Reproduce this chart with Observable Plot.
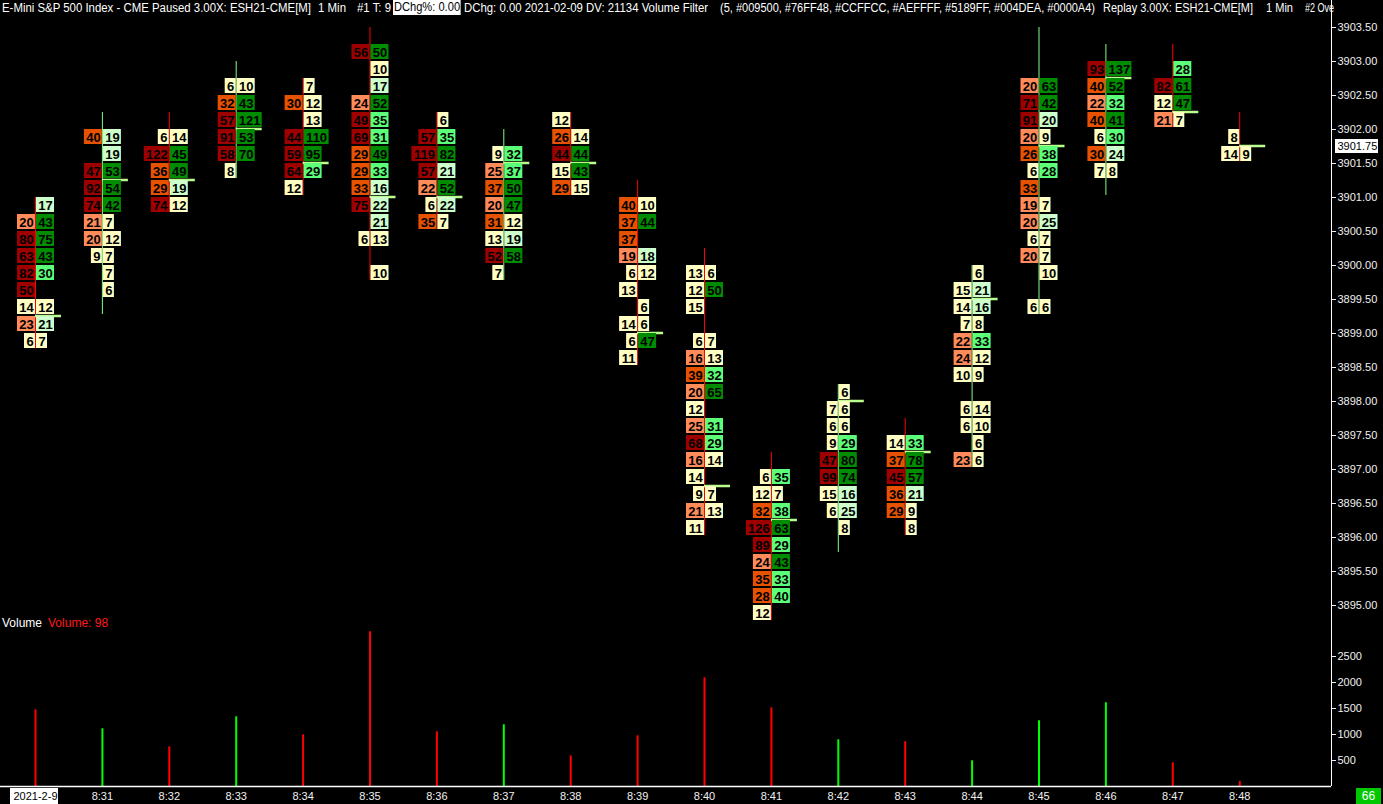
<!DOCTYPE html>
<html><head><meta charset="utf-8">
<script src="https://cdn.jsdelivr.net/npm/d3@7"></script>
<script src="https://cdn.jsdelivr.net/npm/@observablehq/plot@0.6"></script>
<style>
html,body{margin:0;padding:0;background:#000;overflow:hidden}
#wrap{position:relative;width:1383px;height:804px;background:#000;font-family:"Liberation Sans",Arial,sans-serif}
#price{position:absolute;left:0;top:0}
#vol{position:absolute;left:0;top:620px}
#hdr{position:absolute;left:0;top:0;width:1331px;height:17px;color:#fff;font-size:12px;white-space:pre}
#hdr span{position:absolute;top:1px;line-height:14px;transform-origin:0 0}
#hdr .box{background:#fff;color:#000;top:0;line-height:15px;padding:0 1px}
#vlab{position:absolute;left:2px;top:616px;font-size:12px;color:#fff;white-space:pre;line-height:14px}
#vlab span{color:#ff1a1a;margin-left:6px}
#last{position:absolute;left:1356px;top:788px;width:25px;height:16px;background:#00c800;color:#fff;font-size:12px;line-height:16px;text-align:center}
</style></head><body>
<div id="wrap">
  <div id="price"></div>
  <div id="vol"></div>
  <div id="hdr">
    <span data-l="2" data-r="311">E-Mini S&amp;P 500 Index - CME Paused 3.00X: ESH21-CME[M]</span>
    <span data-l="318" data-r="346">1 Min</span>
    <span data-l="357" data-r="391">#1 T: 9</span>
    <span class="box" data-l="393" data-r="461">DChg%: 0.00</span>
    <span data-l="464" data-r="708">DChg: 0.00 2021-02-09 DV: 21134 Volume Filter</span>
    <span data-l="720" data-r="1095">(5, #009500, #76FF48, #CCFFCC, #AEFFFF, #5189FF, #004DEA, #0000A4)</span>
    <span data-l="1103" data-r="1253">Replay 3.00X: ESH21-CME[M]</span>
    <span data-l="1266" data-r="1293">1 Min</span>
    <span data-l="1305" data-r="1334">#2 Ove</span>
  </div>
  <div id="vlab">Volume<span>Volume: 98</span></div>
  <div id="last">66</div>
</div>
<script>
// ---------- data ----------
const times = ["2021-2-9","8:31","8:32","8:33","8:34","8:35","8:36","8:37","8:38","8:39","8:40","8:41","8:42","8:43","8:44","8:45","8:46","8:47","8:48"];
const volumes = [1475,1110,763,1340,994,2975,1052,1187,590,975,2090,1513,898,860,494,1263,1610,456,98];
const barUp = [false,true,false,true,false,false,false,true,false,false,false,false,true,false,true,true,true,false,false];
const highs = [3901.00,3902.25,3902.25,3903.00,3902.75,3903.50,3902.25,3902.00,3902.25,3901.25,3900.25,3897.25,3898.25,3897.75,3900.00,3903.50,3903.25,3903.25,3902.25];
const lows = [3899.00,3899.50,3901.00,3901.50,3901.25,3900.00,3900.75,3900.00,3901.25,3898.75,3896.25,3895.00,3896.00,3896.25,3897.25,3899.50,3901.25,3902.25,3901.75];
const closes = [3899.25,3901.25,3901.25,3902.00,3901.50,3901.00,3901.00,3901.50,3901.50,3899.00,3896.75,3896.25,3898.00,3897.25,3899.50,3901.75,3902.75,3902.25,3901.75];
const cellTop = [3901.00,3902.00,3902.00,3902.75,3902.75,3903.25,3902.25,3901.75,3902.25,3901.00,3900.00,3897.00,3898.25,3897.50,3900.00,3902.75,3903.00,3903.00,3902.00];
const bidVol = [
  [null,20,80,63,82,50,14,23,6],
  [40,null,47,92,74,21,20,9,null,null],
  [6,122,36,29,74],
  [6,32,57,91,58,8],
  [null,30,null,44,59,64,12],
  [56,null,null,24,49,69,29,29,33,75,null,6,null,null],
  [null,57,119,57,22,6,35],
  [9,25,37,20,31,13,52,7],
  [12,26,44,15,29],
  [40,37,37,19,6,13,null,14,6,11],
  [13,12,15,null,6,16,39,20,12,25,68,16,14,9,21,11],
  [6,12,32,126,89,24,35,28,12],
  [null,7,6,9,47,99,15,6,null],
  [14,37,45,36,29,null],
  [null,15,14,7,22,24,10,null,6,6,null,23],
  [20,71,91,20,26,6,33,19,20,6,20,null,null,6],
  [93,40,22,40,6,30,7],
  [null,82,12,21],
  [8,14]
];
const askVol = [
  [17,43,75,43,30,null,12,21,7],
  [19,19,53,54,42,7,12,7,7,6],
  [14,45,49,19,12],
  [10,43,121,53,70,null],
  [7,12,13,110,95,29,null],
  [50,10,17,52,35,31,49,33,16,22,21,13,null,10],
  [6,35,82,21,52,22,7],
  [32,37,50,47,12,19,58,null],
  [null,14,44,43,15],
  [10,44,null,18,12,null,6,6,47,null],
  [6,50,null,null,7,13,32,65,null,31,29,14,null,7,13,null],
  [35,7,38,63,29,43,33,40,null],
  [6,6,6,29,80,74,16,25,8],
  [33,78,57,21,9,8],
  [6,21,16,8,33,12,9,null,14,10,6,6],
  [63,42,20,9,38,28,null,7,25,7,7,10,null,6],
  [137,52,32,41,30,24,8],
  [28,61,47,7],
  [null,9]
];
const priceTicks = [3895,3895.5,3896,3896.5,3897,3897.5,3898,3898.5,3899,3899.5,3900,3900.5,3901,3901.5,3902,3902.5,3903,3903.5];
const volumeTicks = [500,1000,1500,2000,2500];
const lastPrice = 3901.75;
const tick = 0.25;

// ---------- layout / style constants ----------
const W = 1383, STEP = 66.9, X0 = 35, AXIS_X = 1331;
const PPX = 68;                // px per 1.00 of price
const PRICE_H = 620, PRICE_TOP_Y = 27;
const VOL_H = 184, VOL_BASE = 166, VPX = 0.052; // px per contract
const xDomain = [-X0 / STEP, (AXIS_X - X0) / STEP];
const xMax = xDomain[1];
const priceDomain = [3903.5 - (PRICE_H - PRICE_TOP_Y) / PPX, 3903.5 + PRICE_TOP_Y / PPX];
const volDomain = [0, VOL_BASE / VPX];

const C = {
  yellow: "#ffffc4", salmon: "#ff8a5a", orange: "#e65200", dred: "#9e0000",
  lgreen: "#ccffcc", mgreen: "#5cff78", dgreen: "#008c00",
  wickUp: "#80ff80", wickDn: "#ff0000", marker: "#b8ff8c",
  volUp: "#00ff00", volDn: "#ff0000", axis: "#f0f0f0"
};
function cellColor(side, v) {
  if (v <= 15) return C.yellow;
  if (side === "bid") return v <= 25 ? C.salmon : v <= 40 ? C.orange : C.dred;
  return v <= 25 ? C.lgreen : v <= 40 ? C.mgreen : C.dgreen;
}

// ---------- derived cells ----------
const cells = [];
times.forEach((t, i) => {
  const n = Math.max(bidVol[i].length, askVol[i].length);
  for (let k = 0; k < n; k++) {
    const p = cellTop[i] - tick * k;
    const b = bidVol[i][k], a = askVol[i][k];
    if (b != null) {
      const w = 7 * String(b).length + 4;
      cells.push({i, p, v: b, side: "bid", x1: i - w / STEP, x2: i, fill: cellColor("bid", b)});
    }
    if (a != null) {
      const w = 7 * String(a).length + 4;
      cells.push({i, p, v: a, side: "ask", x1: i + 1 / STEP, x2: i + (1 + w) / STEP, fill: cellColor("ask", a)});
    }
  }
});
const idx = times.map((t, i) => i);

// ---------- price pane ----------
const price = Plot.plot({
  width: W, height: PRICE_H,
  marginLeft: 0, marginRight: W - AXIS_X, marginTop: 0, marginBottom: 0,
  style: {background: "#000", color: C.axis, fontFamily: "Liberation Sans, Arial, sans-serif", fontSize: "11px"},
  x: {domain: xDomain, axis: null},
  y: {domain: priceDomain, axis: null},
  color: {type: "identity"},
  marks: [
    Plot.ruleX(idx, {x: i => i, y1: i => highs[i], y2: i => lows[i] - tick, insetBottom: 2,
      stroke: i => barUp[i] ? C.wickUp : C.wickDn, strokeWidth: 1}),
    Plot.ruleY(idx, {y: i => closes[i], x1: i => i, x2: i => i + 26 / STEP, dy: -0.5,
      stroke: C.marker, strokeWidth: 2.5}),
    Plot.rect(cells, {x1: "x1", x2: "x2", y1: "p", y2: d => d.p - tick, insetBottom: 2, fill: "fill"}),
    Plot.text(cells, {x: d => (d.x1 + d.x2) / 2, y: "p", dy: 8, text: d => String(d.v),
      fill: "#000", fontSize: 13, fontWeight: "bold", textAnchor: "middle"}),
    Plot.ruleX([xMax], {stroke: "#fff", strokeWidth: 1}),
    Plot.axisY({anchor: "right", label: null, ticks: priceTicks.filter(t => t !== lastPrice), tickFormat: d3.format(".2f"),
      tickSize: 4, tickPadding: 2, fontSize: 11}),
    Plot.rect([lastPrice], {x1: xMax + 4 / STEP, x2: xMax + 47 / STEP,
      y1: d => d + 7 / PPX, y2: d => d - 7 / PPX, fill: "#fff"}),
    Plot.text([lastPrice], {x: xMax, y: d => d, dx: 6, text: d => d3.format(".2f")(d),
      textAnchor: "start", fill: "#000", fontSize: 11})
  ]
});
document.getElementById("price").appendChild(price);

// ---------- volume pane ----------
const vol = Plot.plot({
  width: W, height: VOL_H,
  marginLeft: 0, marginRight: W - AXIS_X, marginTop: 0, marginBottom: VOL_H - VOL_BASE,
  style: {background: "#000", color: C.axis, fontFamily: "Liberation Sans, Arial, sans-serif", fontSize: "11px"},
  x: {domain: xDomain, axis: null},
  y: {domain: volDomain, axis: null},
  color: {type: "identity"},
  marks: [
    Plot.ruleX(idx, {x: i => i, y1: 0, y2: i => volumes[i],
      stroke: i => barUp[i] ? C.volUp : C.volDn, strokeWidth: 2}),
    Plot.ruleY([0], {stroke: "#fff", strokeWidth: 1.5}),
    Plot.ruleX([xMax], {stroke: "#fff", strokeWidth: 1}),
    Plot.axisY({anchor: "right", label: null, ticks: volumeTicks, tickFormat: d => String(d), tickSize: 4, tickPadding: 2, fontSize: 11}),
    Plot.rect([0], {x1: d => d - 25 / STEP, x2: d => d + 23 / STEP,
      y1: -2 / VPX, y2: -(VOL_H - VOL_BASE) / VPX, fill: "#fff"}),
    Plot.axisX({ticks: [0], label: null, tickFormat: i => times[i], tickSize: 0, tickPadding: 6, fill: "#000", fontSize: 11}),
    Plot.axisX({ticks: idx.slice(1), label: null, tickFormat: i => times[i], tickSize: 0, tickPadding: 6, fontSize: 11})
  ]
});
document.getElementById("vol").appendChild(vol);

// ---------- fit header pieces to their measured spans ----------
document.querySelectorAll("#hdr span").forEach(s => {
  const l = +s.dataset.l;
  s.style.left = l + "px";
  if (s.dataset.r) {
    const target = +s.dataset.r - l;
    const w = s.getBoundingClientRect().width;
    if (w > 0) s.style.transform = `scaleX(${target / w})`;
  }
});
</script>
</body></html>
